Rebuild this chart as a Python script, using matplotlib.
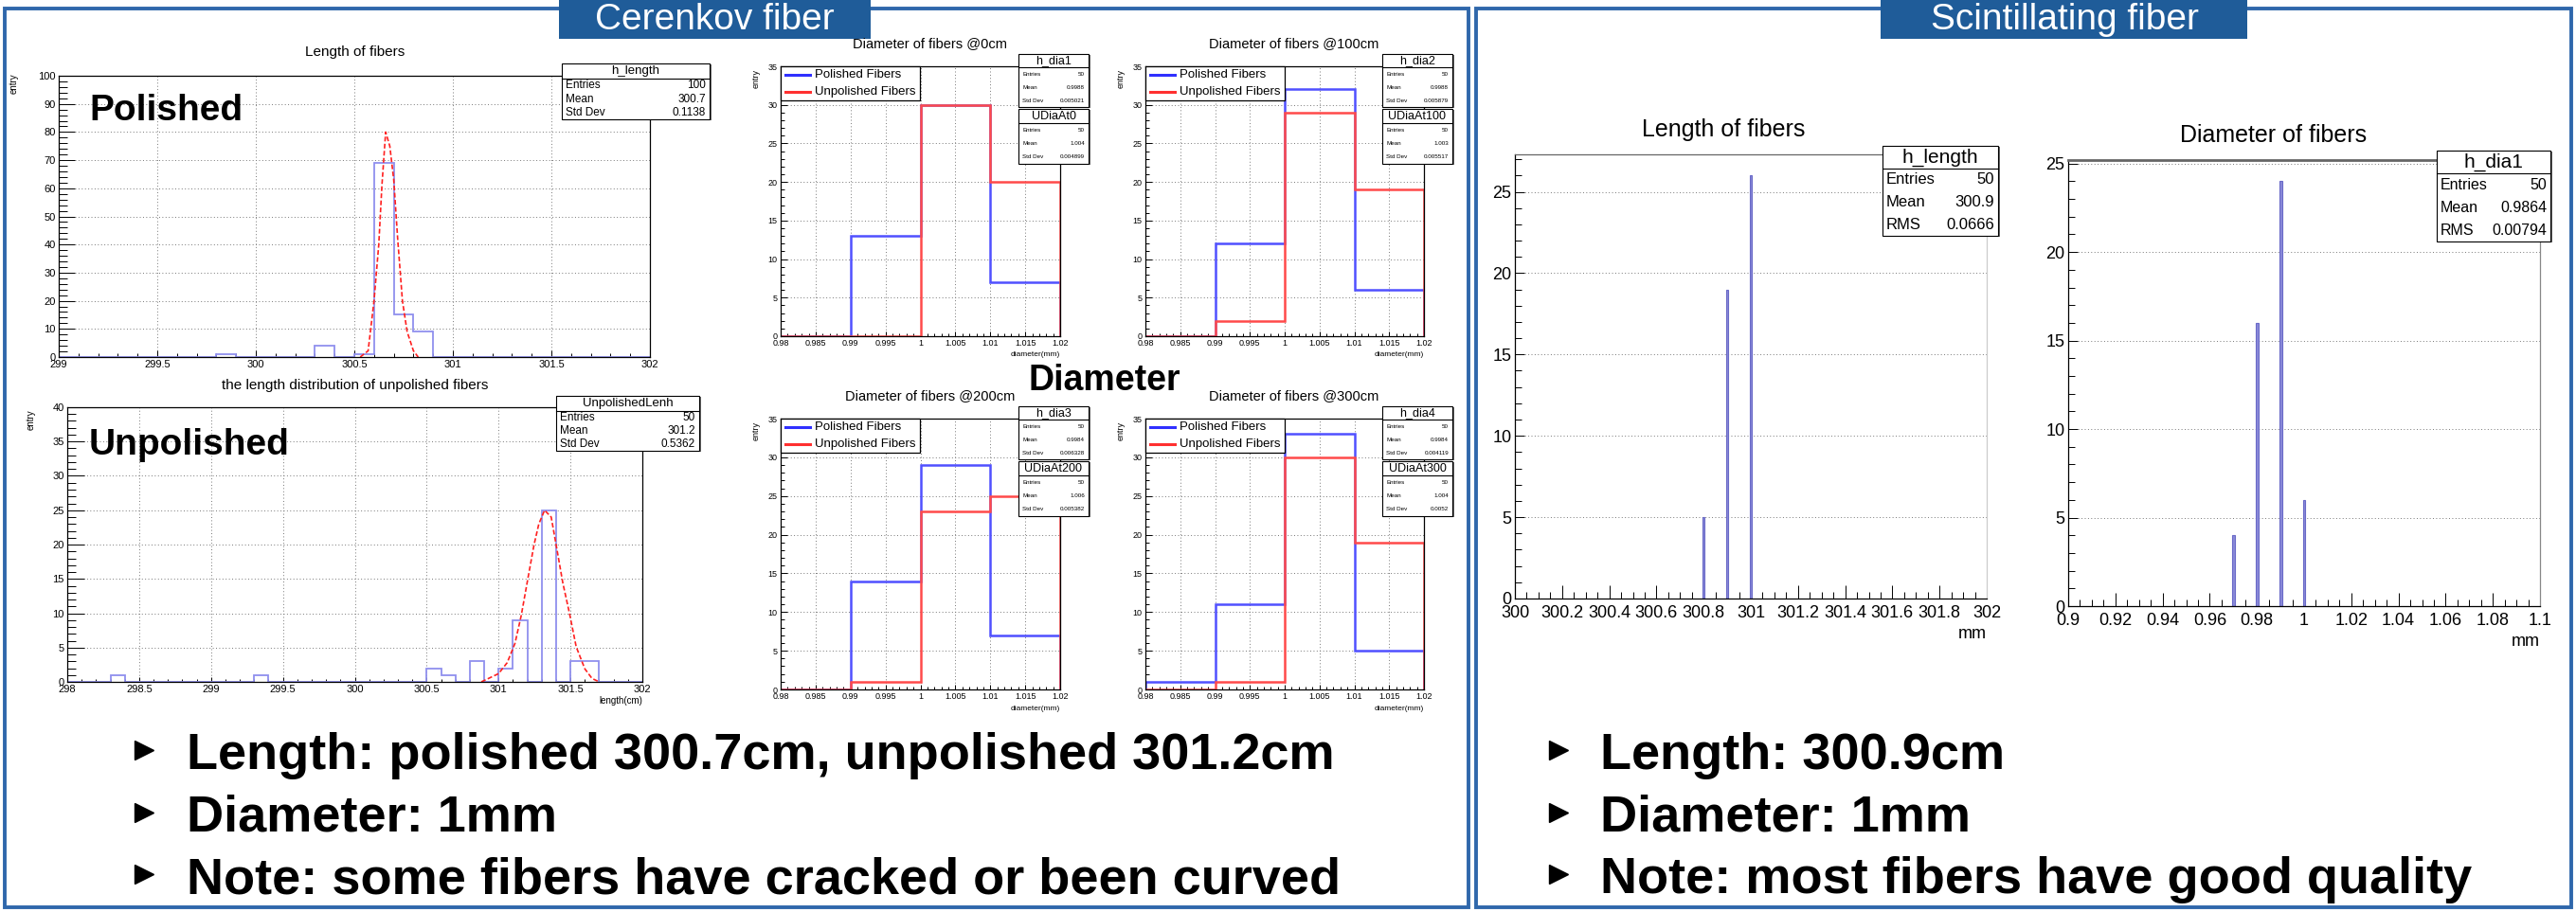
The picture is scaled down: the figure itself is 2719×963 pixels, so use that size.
import numpy as np
import matplotlib.pyplot as plt
from matplotlib.patches import Rectangle
from matplotlib.ticker import MultipleLocator, FuncFormatter

W, H = 2719, 963
plt.rcParams['font.family'] = ['Liberation Sans', 'DejaVu Sans']

# ---- values ----
# Cerenkov fibers, length (bin low edge in cm, entries), bins of 0.1 cm
pol_len_lo = [299.8, 300.3, 300.5, 300.6, 300.7, 300.8]
pol_len_n = [1, 4, 1, 69, 15, 9]
pol_fit_x = [300.53, 300.57, 300.60, 300.624, 300.64, 300.659, 300.68, 300.70,
             300.72, 300.744, 300.768, 300.80, 300.824]
pol_fit_y = [0, 2.2, 20, 40, 61, 80, 75, 63, 42, 20, 9, 2.2, 0]

unp_len_lo = [298.3, 299.3, 300.5, 300.6, 300.8, 301.0, 301.1, 301.3, 301.5, 301.6]
unp_len_n = [1, 1, 2, 1, 3, 2, 9, 25, 3, 3]
unp_fit_x = [300.88, 301.0, 301.06, 301.114, 301.158, 301.2, 301.246, 301.28, 301.32,
             301.366, 301.4, 301.447, 301.493, 301.54, 301.6, 301.65, 301.7]
unp_fit_y = [0, 1.2, 2.8, 5.6, 9.7, 14.6, 19.9, 23, 25, 24, 20, 14.4, 10, 5.1, 1.9, 0.5, 0]

# Cerenkov fibers, diameter at four positions, bins 0.98..1.02 mm
dia_edges = [0.98, 0.99, 1.00, 1.01, 1.02]
dia_pos = ['@0cm', '@100cm', '@200cm', '@300cm']
dia_polished = [[0, 13, 30, 7], [0, 12, 32, 6], [0, 14, 29, 7], [1, 11, 33, 5]]
dia_unpolished = [[0, 0, 30, 20], [0, 2, 29, 19], [0, 1, 23, 25], [0, 1, 30, 19]]
dia_p_names = ['h_dia1', 'h_dia2', 'h_dia3', 'h_dia4']
dia_u_names = ['UDiaAt0', 'UDiaAt100', 'UDiaAt200', 'UDiaAt300']
dia_p_mean = ['0.9988', '0.9988', '0.9984', '0.9984']
dia_p_std = ['0.005021', '0.005879', '0.006328', '0.004119']
dia_u_mean = ['1.004', '1.003', '1.006', '1.004']
dia_u_std = ['0.004899', '0.005517', '0.005382', '0.0052']

# Scintillating fibers
sc_len_x = [300.8, 300.9, 301.0]
sc_len_n = [5, 19, 26]
sc_dia_x = [0.97, 0.98, 0.99, 1.00]
sc_dia_n = [4, 16, 24, 6]

fig = plt.figure(figsize=(W / 100, H / 100), dpi=100)
fmt = FuncFormatter(lambda v, p: '%g' % round(v, 6))


def root_axes(box, xlim, ylim, xstep, ystep, fs, xtl, ytl, xgrid=True, xpad=2.5):
    l, t, r, b = box
    ax = fig.add_axes([l / W, 1 - b / H, (r - l) / W, (b - t) / H])
    ax.set_xlim(xlim)
    ax.set_ylim(ylim)
    ax.xaxis.set_major_locator(MultipleLocator(xstep[0]))
    ax.xaxis.set_minor_locator(MultipleLocator(xstep[1]))
    ax.yaxis.set_major_locator(MultipleLocator(ystep[0]))
    ax.yaxis.set_minor_locator(MultipleLocator(ystep[1]))
    ax.xaxis.set_major_formatter(fmt)
    ax.yaxis.set_major_formatter(fmt)
    ax.tick_params(which='both', direction='in', top=False, right=False,
                   labelsize=fs, width=0.7, pad=2.5)
    ax.xaxis.set_tick_params(which='major', length=xtl[0], pad=xpad)
    ax.xaxis.set_tick_params(which='minor', length=xtl[1])
    ax.yaxis.set_tick_params(which='major', length=ytl[0])
    ax.yaxis.set_tick_params(which='minor', length=ytl[1])
    ax.grid(True, which='major', axis='both' if xgrid else 'y',
            ls=(0, (1, 2.5)), color='#777777', lw=0.7)
    ax.set_axisbelow(True)
    for s in ax.spines.values():
        s.set_linewidth(0.9)
    return ax


def full_hist(lo, n, xmin, xmax, w):
    edges = np.linspace(xmin, xmax, int(round((xmax - xmin) / w)) + 1)
    vals, _ = np.histogram(np.asarray(lo) + w / 2, bins=edges, weights=n)
    return vals, edges


# ---- Cerenkov: length plots ----
ax = root_axes((62, 80, 686, 377), (299, 302), (0, 100), (0.5, 0.1), (10, 2), 8, (5, 3), (12, 6.5))
v, e = full_hist(pol_len_lo, pol_len_n, 299, 302, 0.1)
ax.stairs(v, e, color='#9090ee', lw=1.3)
ax.plot(pol_fit_x, pol_fit_y, color='#ff2020', lw=1.2, ls=(0, (3, 1.5)))

ax = root_axes((71, 430, 678, 720), (298, 302), (0, 40), (0.5, 0.1), (5, 1), 8, (3.6, 2), (13, 6.5))
v, e = full_hist(unp_len_lo, unp_len_n, 298, 302, 0.1)
ax.stairs(v, e, color='#9090ee', lw=1.3)
ax.plot(unp_fit_x, unp_fit_y, color='#ff2020', lw=1.2, ls=(0, (3, 1.5)))

# ---- Cerenkov: diameter plots ----
dia_boxes = [(824, 70, 1119, 355), (1209, 70, 1503, 355),
             (824, 442, 1119, 728), (1209, 442, 1503, 728)]
for i, box in enumerate(dia_boxes):
    ax = root_axes(box, (0.98, 1.02), (0, 35), (0.005, 0.001), (5, 1), 6.5, (3.6, 2), (5, 3))
    ax.stairs(dia_polished[i], dia_edges, color='#5050ff', lw=1.8)
    ax.stairs(dia_unpolished[i], dia_edges, color='#ff4a4a', lw=1.8)

# ---- Scintillating plots ----
ax = root_axes((1599, 163, 2097, 632), (300, 302), (0, 27.3), (0.2, 0.05), (5, 1), 13, (10, 5), (7, 5),
               xgrid=False, xpad=5)
ax.bar(sc_len_x, sc_len_n, width=0.008, color='#8a8ad8', edgecolor='#6a6ac8', lw=0.8)
ax.spines['top'].set_color('#666666')
ax.spines['right'].set_color('#cccccc')

ax = root_axes((2183, 169, 2681, 640), (0.9, 1.1), (0, 25.2), (0.02, 0.005), (5, 1), 13, (10, 5), (7, 5),
               xgrid=False, xpad=5)
ax.bar(sc_dia_x, sc_dia_n, width=0.0012, color='#8a8ad8', edgecolor='#6a6ac8', lw=0.8)
ax.spines['top'].set_color('#666666')
ax.spines['top'].set_linewidth(2)
ax.spines['right'].set_color('#888888')

# ---- overlay in pixel coordinates ----
ov = fig.add_axes([0, 0, 1, 1], zorder=10)
ov.set_xlim(0, W)
ov.set_ylim(H, 0)
ov.axis('off')
ov.patch.set_alpha(0)


def stats(l, t, r, b, title, rows, fs, tfs, th):
    ov.add_patch(Rectangle((l + 1.5, t + 1.5), r - l, b - t, fc='#666666', ec='none'))
    ov.add_patch(Rectangle((l, t), r - l, b - t, fc='white', ec='black', lw=0.8))
    ov.plot([l, r], [t + th, t + th], color='black', lw=0.8)
    ov.text((l + r) / 2, t + th / 2, title, ha='center', va='center', fontsize=tfs)
    rh = (b - t - th) / len(rows)
    for k, (key, val) in enumerate(rows):
        y = t + th + rh * (k + 0.5)
        ov.text(l + 4, y, key, ha='left', va='center', fontsize=fs)
        ov.text(r - 4, y, val, ha='right', va='center', fontsize=fs)


def legend(l, t, r, b, fs):
    ov.add_patch(Rectangle((l, t), r - l, b - t, fc='white', ec='black', lw=0.9))
    labels = ['Polished Fibers', 'Unpolished Fibers']
    colors = ['#3030ff', '#ff3030']
    h = (b - t) / 2
    for k in range(2):
        y = t + h * (k + 0.5)
        ov.plot([l + 5, l + 31], [y, y], color=colors[k], lw=2.2)
        ov.text(l + 36, y, labels[k], ha='left', va='center', fontsize=fs)


# panel frames and tabs
for (l, r) in [(5, 1550), (1558, 2714)]:
    ov.add_patch(Rectangle((l, 9), r - l, 949, fc='none', ec='#2f67ab', lw=2.8))
for (l, r, cx, txt) in [(590, 919, 754, 'Cerenkov fiber'), (1985, 2372, 2179, 'Scintillating fiber')]:
    ov.add_patch(Rectangle((l, -5), r - l, 46, fc='#1f5c99', ec='none'))
    ov.text(cx, 31, txt, ha='center', va='baseline', fontsize=28, color='white')

# Cerenkov length plot texts
ov.text(375, 55, 'Length of fibers', ha='center', va='center', fontsize=11)
ov.text(375, 407, 'the length distribution of unpolished fibers', ha='center', va='center', fontsize=11)
ov.text(94, 117, 'Polished', ha='left', va='center', fontsize=28, fontweight='bold')
ov.text(94, 470, 'Unpolished', ha='left', va='center', fontsize=28, fontweight='bold')
ov.text(15, 88, 'entry', ha='center', va='center', rotation=90, fontsize=7)
ov.text(33, 443, 'entry', ha='center', va='center', rotation=90, fontsize=7)
ov.text(678, 740, 'length(cm)', ha='right', va='center', fontsize=7)
stats(593, 67, 749, 126, 'h_length', [('Entries', '100'), ('Mean', '300.7'), ('Std Dev', '0.1138')], 8.5, 9.5, 16)
stats(587, 418, 738, 476, 'UnpolishedLenh', [('Entries', '50'), ('Mean', '301.2'), ('Std Dev', '0.5362')], 8.5, 9.5, 16)

# diameter plot texts
ov.text(1166, 402, 'Diameter', ha='center', va='center', fontsize=27, fontweight='bold')
for i, (l, t, r, b) in enumerate(dia_boxes):
    ov.text((l + r) / 2 + 10, t - 24, 'Diameter of fibers ' + dia_pos[i], ha='center', va='center', fontsize=10.5)
    ov.text(l - 26, t + 13, 'entry', ha='center', va='center', rotation=90, fontsize=6.5)
    ov.text(r, b + 20, 'diameter(mm)', ha='right', va='center', fontsize=6)
    legend(l, t, l + 147, t + 36, 9.5)
    stats(r - 44, t - 13, r + 30, t + 43, dia_p_names[i],
          [('Entries', '50'), ('Mean', dia_p_mean[i]), ('Std Dev', dia_p_std[i])], 4.5, 9, 14)
    stats(r - 44, t + 45, r + 30, t + 103, dia_u_names[i],
          [('Entries', '50'), ('Mean', dia_u_mean[i]), ('Std Dev', dia_u_std[i])], 4.5, 9, 15)

# scintillating plot texts
ov.text(1819, 137, 'Length of fibers', ha='center', va='center', fontsize=18)
ov.text(2400, 143, 'Diameter of fibers', ha='center', va='center', fontsize=18)
ov.text(2097, 670, 'mm', ha='right', va='center', fontsize=13)
ov.text(2681, 677, 'mm', ha='right', va='center', fontsize=13)
stats(1987, 154, 2109, 249, 'h_length', [('Entries', '50'), ('Mean', '300.9'), ('RMS', '0.0666')], 12, 15, 24)
stats(2572, 159, 2692, 255, 'h_dia1', [('Entries', '50'), ('Mean', '0.9864'), ('RMS', '0.00794')], 11.5, 15, 24)

# bullet lines
left_lines = ['Length: polished 300.7cm, unpolished 301.2cm', 'Diameter: 1mm',
              'Note: some fibers have cracked or been curved']
right_lines = ['Length: 300.9cm', 'Diameter: 1mm', 'Note: most fibers have good quality']
baselines = [812, 878, 943]
for bx, tx, lines in [(152, 197, left_lines), (1645, 1689, right_lines)]:
    for y, s in zip(baselines, lines):
        ov.plot([bx], [y - 20], marker='>', color='black', markersize=14, ls='none')
        ov.text(tx, y, s, ha='left', va='baseline', fontsize=39, fontweight='bold')

fig.savefig('out.png', dpi=100)
